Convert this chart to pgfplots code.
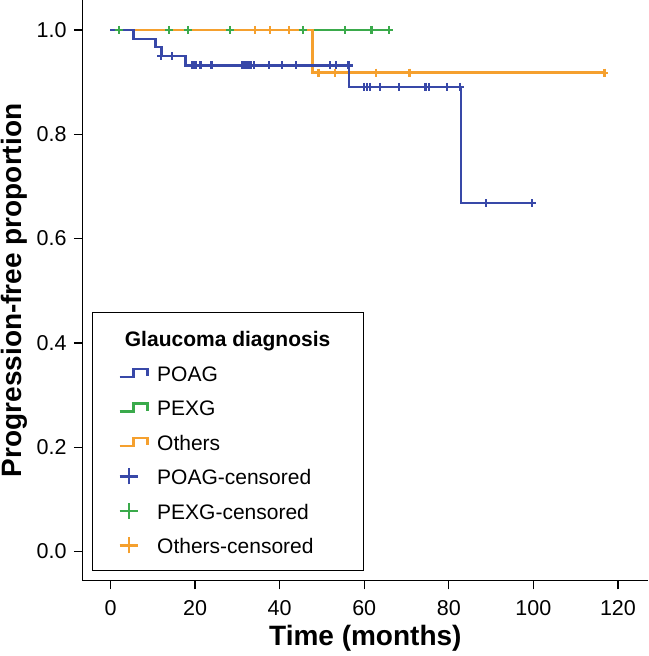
\documentclass[border=0pt]{standalone}
\usepackage{fontspec}
\setmainfont{Liberation Sans}
\usepackage{pgfplots}
\pgfplotsset{compat=1.18}
\definecolor{poagc}{RGB}{56,72,168}
\definecolor{pexgc}{RGB}{58,170,75}
\definecolor{othc}{RGB}{245,160,46}
\begin{document}
\begin{tikzpicture}
\begin{axis}[
 at={(0,0)}, anchor=south west,
 width=565.3pt, height=580.7pt, scale only axis,
 xmin=-6.57, xmax=127.1, ymin=-0.056, ymax=1.0575,
 axis lines=left, axis line style={-, line width=1.3pt, black},
 tick align=outside, major tick length=8.7pt,
 tick style={black, line width=1.3pt},
 xtick={0,20,40,60,80,100,120}, ytick={0,0.2,0.4,0.6,0.8,1.0},
 /pgf/number format/assume math mode=true,
 yticklabel style={/pgf/number format/fixed, /pgf/number format/fixed zerofill, /pgf/number format/precision=1},
 tick label style={font=\fontsize{21.5}{21.5}\selectfont, inner sep=0pt},
 xticklabel style={anchor=north, yshift=-10.6pt},
 yticklabel style={anchor=east, xshift=-7.3pt},
 xlabel={Time (months)}, ylabel={Progression-free proportion},
 every axis x label/.style={at={(axis description cs:0.5,-0.1121)}, anchor=base, font=\bfseries\fontsize{28}{28}\selectfont},
 every axis y label/.style={at={(axis description cs:-0.1091,0.5)}, rotate=90, anchor=base, font=\bfseries\fontsize{28}{28}\selectfont},
 legend cell align=left,
 legend style={at={(axis description cs:0.01734,0.4619)}, anchor=north west,
   draw=black, line width=1pt, inner xsep=25.5pt, inner ysep=15pt,
   row sep=13.5pt, column sep=8.6pt,
   font=\fontsize{21}{21}\selectfont,
   nodes={inner sep=0pt, text height=19pt, text depth=2pt}},
]
\addlegendimage{empty legend}
\addlegendentry{\makebox[181pt][l]{\hspace*{-32.3pt}\textbf{Glaucoma diagnosis}}}
\addlegendimage{legend image code/.code={\draw[poagc, line width=2.4pt] (0pt,-4pt) -- (13.7pt,-4pt) -- (13.7pt,4pt) -- (27.7pt,4pt) -- (27.7pt,-3.5pt);}}
\addlegendentry{POAG}
\addlegendimage{legend image code/.code={\draw[pexgc, line width=2.4pt] (0pt,-4pt) -- (13.7pt,-4pt) -- (13.7pt,4pt) -- (27.7pt,4pt) -- (27.7pt,-3.5pt);}}
\addlegendentry{PEXG}
\addlegendimage{legend image code/.code={\draw[othc, line width=2.4pt] (0pt,-4pt) -- (13.7pt,-4pt) -- (13.7pt,4pt) -- (27.7pt,4pt) -- (27.7pt,-3.5pt);}}
\addlegendentry{Others}
\addlegendimage{legend image code/.code={\draw[poagc, line width=2.4pt] (0pt,0pt) -- (18.4pt,0pt) (9.2pt,-8pt) -- (9.2pt,8pt);}}
\addlegendentry{POAG-censored}
\addlegendimage{legend image code/.code={\draw[pexgc, line width=2.4pt] (0pt,0pt) -- (18.4pt,0pt) (9.2pt,-8pt) -- (9.2pt,8pt);}}
\addlegendentry{PEXG-censored}
\addlegendimage{legend image code/.code={\draw[othc, line width=2.4pt] (0pt,0pt) -- (18.4pt,0pt) (9.2pt,-8pt) -- (9.2pt,8pt);}}
\addlegendentry{Others-censored}

% step lines
\addplot[forget plot, const plot, pexgc, line width=2.6pt] coordinates {(0,1) (66,1)};
\addplot[forget plot, const plot, othc, line width=2.6pt] coordinates {(0,1) (47.8,0.918) (117,0.918)};
\addplot[forget plot, const plot, poagc, line width=2.6pt] coordinates {(0,1) (5.4,0.983) (10.6,0.967) (12.0,0.950) (17.7,0.932) (56.4,0.891) (82.9,0.668) (100,0.668)};

% censored marks
\addplot[forget plot, only marks, mark=+, mark size=4pt, poagc, mark options={line width=2.2pt}] coordinates {
(12.0,0.950) (14.6,0.950)
(19.4,0.932) (19.9,0.932) (20.3,0.932) (21.3,0.932) (23.9,0.932) (31.1,0.932) (31.6,0.932) (32.0,0.932) (32.4,0.932) (33.1,0.932) (33.9,0.932) (37.4,0.932) (40.6,0.932) (43.9,0.932) (52.0,0.932) (53.3,0.932) (56.3,0.932)
(59.9,0.891) (60.6,0.891) (61.4,0.891) (63.7,0.891) (68.2,0.891) (74.5,0.891) (75.3,0.891) (79.5,0.891) (82.6,0.891)
(88.8,0.668) (99.6,0.668)};
\addplot[forget plot, only marks, mark=+, mark size=4pt, pexgc, mark options={line width=2.2pt}] coordinates {
(2.0,1) (13.8,1) (18.3,1) (28.3,1) (45.5,1) (55.5,1) (61.7,1) (65.9,1)};
\addplot[forget plot, only marks, mark=+, mark size=4pt, othc, mark options={line width=2.2pt}] coordinates {
(34.2,1) (37.7,1) (42.2,1)
(49.2,0.918) (53.0,0.918) (62.8,0.918) (70.5,0.918) (70.9,0.918) (116.8,0.918)};
\end{axis}
\pgfresetboundingbox
\useasboundingbox (-82.7pt,-75.3pt) rectangle (565.3pt,580.7pt);
\end{tikzpicture}
\end{document}
